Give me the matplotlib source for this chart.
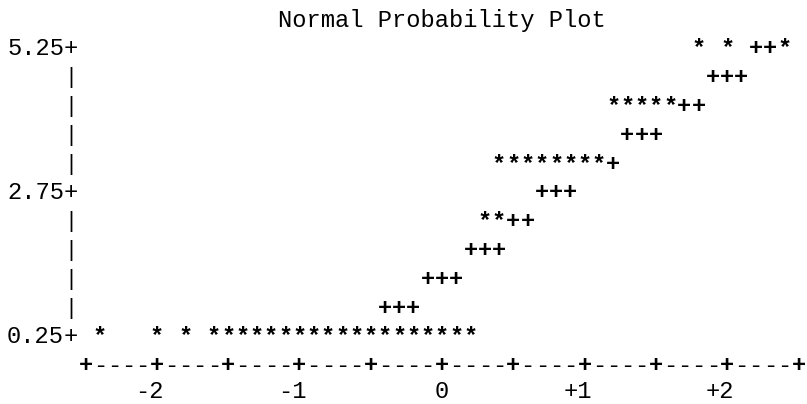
import matplotlib
matplotlib.use("Agg")
import numpy as np
import matplotlib.pyplot as plt
from matplotlib.transforms import offset_copy

title = "Normal Probability Plot"

# Observed values ('*'): one list of normal quantiles per printed level
obs_levels = [0.25, 2.25, 3.25, 4.25, 5.25]
obs_q = [
    [-2.4, -2.0, -1.8, -1.6, -1.5, -1.4, -1.3, -1.2, -1.1, -1.0, -0.9,
     -0.8, -0.7, -0.6, -0.5, -0.4, -0.3, -0.2, -0.1, 0.0, 0.1, 0.2],
    [0.3, 0.4],
    [0.4, 0.5, 0.6, 0.7, 0.8, 0.9, 1.0, 1.1],
    [1.2, 1.3, 1.4, 1.5, 1.6],
    [1.8, 2.0, 2.4],
]

# Normal reference line ('+') where it is not hidden by an observation
ref_levels = [0.75, 1.25, 1.75, 2.25, 2.75, 3.25, 3.75, 4.25, 4.75, 5.25]
ref_q = [
    [-0.4, -0.3, -0.2],
    [-0.1, 0.0, 0.1],
    [0.2, 0.3, 0.4],
    [0.5, 0.6],
    [0.7, 0.8, 0.9],
    [1.2],
    [1.3, 1.4, 1.5],
    [1.7, 1.8],
    [1.9, 2.0, 2.1],
    [2.2, 2.3],
]

y_ticks = [0.25, 2.75, 5.25]
y_tick_labels = ["0.25", "2.75", "5.25"]
x_ticks = [-2, -1, 0, 1, 2]
x_tick_labels = ["-2", "-1", "0", "+1", "+2"]

# Character grid of the line-printer plot
x_min, x_max, x_step = -2.5, 2.5, 0.1     # one column per 0.1
y_min, y_max, y_step = 0.25, 5.25, 0.5    # one row per 0.5

W, H, DPI = 8.07, 4.04, 100
fig = plt.figure(figsize=(W, H), dpi=DPI)
ax = fig.add_axes([0, 0, 1, 1])
ax.set_xlim(-3.0996, 2.5596)
ax.set_ylim(-0.925, 6.089)
ax.axis("off")

FONT = "Liberation Mono"
FS = 17.1

def shifted(dy):
    return offset_copy(ax.transData, fig=fig, x=0, y=dy, units="dots")

tr = shifted(-7.0)        # baseline below the row centre
tr_bar = shifted(-6.0)    # smaller '|' glyphs for the vertical axis
tr_lab = shifted(-4.5)    # x tick labels

def put(x, y, s, ha="center", transform=None, size=FS, weight="normal"):
    ax.text(x, y, s, ha=ha, va="baseline", family=FONT, fontsize=size,
            fontweight=weight, color="black",
            transform=transform if transform is not None else tr)

# title
put(x_min + 14 * x_step - x_step / 2, y_max + y_step, title, ha="left")

# vertical axis: '+' at labelled levels, '|' elsewhere
axis_x = x_min - x_step
for lev in np.arange(y_min, y_max + y_step / 2, y_step):
    if any(abs(lev - t) < 1e-9 for t in y_ticks):
        put(axis_x, lev, "+")
    else:
        put(axis_x, lev, "|", transform=tr_bar, size=15.5)
for t, lab in zip(y_ticks, y_tick_labels):
    put(axis_x - x_step / 2, t, lab, ha="right")

# horizontal axis: '+' every 0.5, '-' between
axis_y = y_min - y_step
for i, xv in enumerate(np.arange(x_min, x_max + x_step / 2, x_step)):
    if i % 5 == 0:
        put(xv, axis_y, "+", weight="bold")
    else:
        put(xv, axis_y, "-")
for t, lab in zip(x_ticks, x_tick_labels):
    put(t + x_step / 2, axis_y - y_step, lab, ha="right", transform=tr_lab)

# reference line and observations
for lev, qs in zip(ref_levels, ref_q):
    for q in qs:
        put(q, lev, "+", weight="bold")
for lev, qs in zip(obs_levels, obs_q):
    for q in qs:
        put(q, lev, "*", weight="bold")

fig.savefig("out.png", dpi=DPI, facecolor="white")
